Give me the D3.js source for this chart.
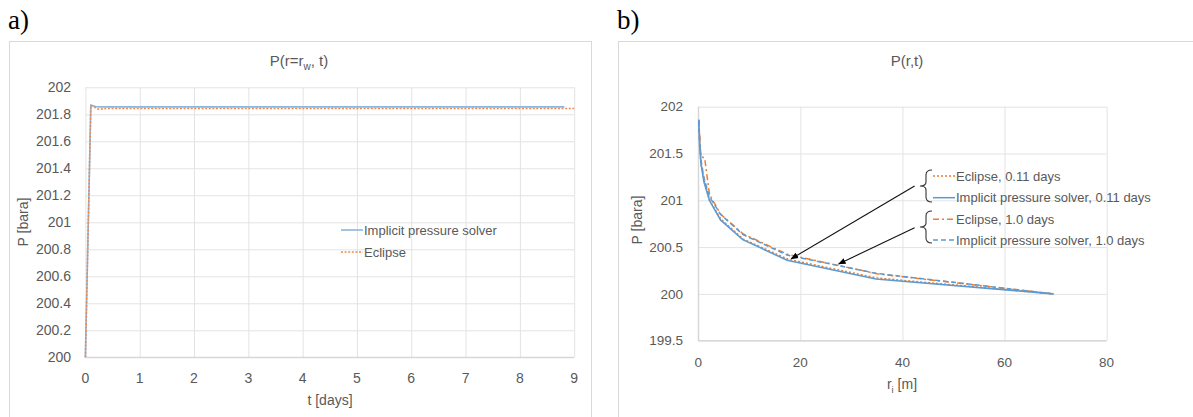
<!DOCTYPE html>
<html>
<head>
<meta charset="utf-8">
<script src="https://cdn.jsdelivr.net/npm/d3@7"></script>
<style>
  html, body { margin: 0; padding: 0; background: #fff; }
  svg { display: block; }
  text { font-family: "Liberation Sans", Arial, sans-serif; fill: #595959; }
</style>
</head>
<body>
<svg id="chart" width="1193" height="417"></svg>
<script>
// ---- Panel a: well pressure vs time ----
const timeImplicit = [0, 0.1, 0.2, 0.3, 1, 2, 3, 4, 5, 6, 7, 8, 8.82];
const presImplicit = [200, 201.868, 201.856, 201.855, 201.855, 201.855, 201.855, 201.855, 201.855, 201.855, 201.855, 201.855, 201.855];
const timeEclipse = [0, 0.1, 0.24, 0.4, 1, 2, 3, 4, 5, 6, 7, 8, 9];
const presEclipse = [200, 201.866, 201.838, 201.843, 201.843, 201.843, 201.843, 201.843, 201.843, 201.843, 201.843, 201.843, 201.843];
const tTicks = [0, 1, 2, 3, 4, 5, 6, 7, 8, 9];
const pTicksA = [200, 200.2, 200.4, 200.6, 200.8, 201, 201.2, 201.4, 201.6, 201.8, 202];

// ---- Panel b: pressure profile vs radius ----
const radiusImplicit = [0.1, 0.136, 0.27, 0.54, 1.09, 2.17, 4.35, 8.7, 17.4, 34.8, 69.6];
const presImplicit011 = [201.86, 201.78, 201.58, 201.39, 201.2, 201.0, 200.79, 200.58, 200.36, 200.16, 200.0];
const presImplicit10 = [201.86, 201.8, 201.62, 201.43, 201.24, 201.04, 200.85, 200.635, 200.415, 200.22, 200.0];
const radiusEclipse = [0.1, 0.5, 1.25, 2.2, 4.4, 8.8, 17.6, 35, 69.6];
const presEclipse011 = [201.85, 201.39, 201.2, 201.0, 200.8, 200.585, 200.37, 200.17, 200.0];
const presEclipse10 = [201.85, 201.47, 201.45, 201.06, 200.85, 200.64, 200.42, 200.215, 200.0];
const rTicks = [0, 20, 40, 60, 80];
const pTicksB = [199.5, 200, 200.5, 201, 201.5, 202];

const legendB = [
  { label: "Eclipse, 0.11 days", color: "#ed7d31", dash: "2,2" },
  { label: "Implicit pressure solver, 0.11 days", color: "#5b9bd5", dash: null },
  { label: "Eclipse, 1.0 days", color: "#ed7d31", dash: "6,3,2,3" },
  { label: "Implicit pressure solver, 1.0 days", color: "#5b9bd5", dash: "5,3" }
];

const svg = d3.select("#chart");
const gridColor = "#e3e3e3";

// chart frames
svg.append("rect").attr("x", 9.5).attr("y", 41.5).attr("width", 582).attr("height", 390)
  .attr("fill", "none").attr("stroke", "#d9d9d9");
svg.append("rect").attr("x", 618.5).attr("y", 41.5).attr("width", 600).attr("height", 390)
  .attr("fill", "none").attr("stroke", "#d9d9d9");

// panel letters
svg.append("text").attr("x", 8).attr("y", 29).text("a)")
  .style("font-family", "'Liberation Serif', 'Times New Roman', serif").style("font-size", "27px").style("fill", "#000");
svg.append("text").attr("x", 617).attr("y", 29).text("b)")
  .style("font-family", "'Liberation Serif', 'Times New Roman', serif").style("font-size", "27px").style("fill", "#000");

// ================= Panel a =================
const xa = d3.scaleLinear().domain([0, 9]).range([85.4, 574.2]);
const ya = d3.scaleLinear().domain([200, 202]).range([357.3, 87.3]);
const ga = svg.append("g");

ga.append("g").attr("transform", `translate(0,${ya(200)})`)
  .call(d3.axisBottom(xa).tickValues(tTicks).tickSize(-(ya(200) - ya(202))).tickFormat(""))
  .call(g => g.select(".domain").remove())
  .call(g => g.selectAll("line").attr("stroke", gridColor));
ga.append("g").attr("transform", `translate(${xa(0)},0)`)
  .call(d3.axisLeft(ya).tickValues(pTicksA).tickSize(-(xa(9) - xa(0))).tickFormat(""))
  .call(g => g.select(".domain").remove())
  .call(g => g.selectAll("line").attr("stroke", gridColor));
ga.append("line").attr("x1", xa(0)).attr("x2", xa(9)).attr("y1", ya(200)).attr("y2", ya(200))
  .attr("stroke", "#d0d0d0");

ga.selectAll(".ytA").data(pTicksA).join("text")
  .attr("x", 71).attr("y", d => ya(d)).attr("dy", "0.35em")
  .attr("text-anchor", "end").style("font-size", "14px").text(d => d3.format("")(d));
ga.selectAll(".xtA").data(tTicks).join("text")
  .attr("x", d => xa(d)).attr("y", 383).attr("text-anchor", "middle")
  .style("font-size", "14px").text(d => d);

const lineA = (xs, ys) => d3.line().x((d, i) => xa(xs[i])).y(d => ya(d))(ys);
ga.append("path").attr("d", lineA(timeImplicit, presImplicit))
  .attr("fill", "none").attr("stroke", "#8ab6e2").attr("stroke-width", 1.6);
ga.append("path").attr("d", lineA(timeEclipse, presEclipse))
  .attr("fill", "none").attr("stroke", "#f0894a").attr("stroke-width", 1.6).attr("stroke-dasharray", "2,1.6");

// title
const tA = ga.append("text").attr("x", 299).attr("y", 66).attr("text-anchor", "middle").style("font-size", "15px");
tA.append("tspan").text("P(r=r");
tA.append("tspan").attr("dy", 4).style("font-size", "10px").text("w");
tA.append("tspan").attr("dy", -4).text(", t)");

// axis titles
ga.append("text").attr("transform", "translate(28,222) rotate(-90)").attr("text-anchor", "middle")
  .style("font-size", "14px").text("P [bara]");
ga.append("text").attr("x", 330).attr("y", 405).attr("text-anchor", "middle")
  .style("font-size", "14px").text("t [days]");

// legend
const legA = [
  { label: "Implicit pressure solver", color: "#8ab6e2", dash: null, y: 230 },
  { label: "Eclipse", color: "#f0894a", dash: "2,1.6", y: 252 }
];
legA.forEach(d => {
  ga.append("line").attr("x1", 341).attr("x2", 363).attr("y1", d.y).attr("y2", d.y)
    .attr("stroke", d.color).attr("stroke-width", 1.6).attr("stroke-dasharray", d.dash);
  ga.append("text").attr("x", 364).attr("y", d.y).attr("dy", "0.35em").style("font-size", "13px").text(d.label);
});

// ================= Panel b =================
const xb = d3.scaleLinear().domain([0, 80]).range([698.3, 1106.6]);
const yb = d3.scaleLinear().domain([199.5, 202]).range([340.7, 106.7]);
const gb = svg.append("g");

gb.append("g").attr("transform", `translate(0,${yb(199.5)})`)
  .call(d3.axisBottom(xb).tickValues(rTicks).tickSize(-(yb(199.5) - yb(202))).tickFormat(""))
  .call(g => g.select(".domain").remove())
  .call(g => g.selectAll("line").attr("stroke", gridColor));
gb.append("g").attr("transform", `translate(${xb(0)},0)`)
  .call(d3.axisLeft(yb).tickValues(pTicksB).tickSize(-(xb(80) - xb(0))).tickFormat(""))
  .call(g => g.select(".domain").remove())
  .call(g => g.selectAll("line").attr("stroke", gridColor));
gb.append("line").attr("x1", xb(0)).attr("x2", xb(80)).attr("y1", yb(199.5)).attr("y2", yb(199.5))
  .attr("stroke", "#d0d0d0");
gb.append("line").attr("x1", xb(0)).attr("x2", xb(0)).attr("y1", yb(199.5)).attr("y2", yb(202))
  .attr("stroke", "#d0d0d0");

gb.selectAll(".ytB").data(pTicksB).join("text")
  .attr("x", 683).attr("y", d => yb(d)).attr("dy", "0.35em")
  .attr("text-anchor", "end").style("font-size", "13.5px").text(d => d);
gb.selectAll(".xtB").data(rTicks).join("text")
  .attr("x", d => xb(d)).attr("y", 367).attr("text-anchor", "middle")
  .style("font-size", "13.5px").text(d => d);

const lineB = (xs, ys) => d3.line().x((d, i) => xb(xs[i])).y(d => yb(d))(ys);
gb.append("path").attr("d", lineB(radiusEclipse, presEclipse011))
  .attr("fill", "none").attr("stroke", legendB[0].color).attr("stroke-width", 1.5).attr("stroke-dasharray", legendB[0].dash);
gb.append("path").attr("d", lineB(radiusEclipse, presEclipse10))
  .attr("fill", "none").attr("stroke", legendB[2].color).attr("stroke-width", 1.5).attr("stroke-dasharray", legendB[2].dash);
gb.append("path").attr("d", lineB(radiusImplicit, presImplicit011))
  .attr("fill", "none").attr("stroke", legendB[1].color).attr("stroke-width", 1.6);
gb.append("path").attr("d", lineB(radiusImplicit, presImplicit10))
  .attr("fill", "none").attr("stroke", legendB[3].color).attr("stroke-width", 1.5).attr("stroke-dasharray", legendB[3].dash);

// title
gb.append("text").attr("x", 907).attr("y", 66).attr("text-anchor", "middle").style("font-size", "15px").text("P(r,t)");

// axis titles
gb.append("text").attr("transform", "translate(642,220) rotate(-90)").attr("text-anchor", "middle")
  .style("font-size", "14px").text("P [bara]");
const tB = gb.append("text").attr("x", 902).attr("y", 389).attr("text-anchor", "middle").style("font-size", "14px");
tB.append("tspan").text("r");
tB.append("tspan").attr("dy", 4).style("font-size", "9.5px").text("i");
tB.append("tspan").attr("dy", -4).text(" [m]");

// legend
const legY = [176, 197.7, 219.3, 240];
legendB.forEach((d, i) => {
  gb.append("line").attr("x1", 933).attr("x2", 955).attr("y1", legY[i]).attr("y2", legY[i])
    .attr("stroke", d.color).attr("stroke-width", 1.5).attr("stroke-dasharray", d.dash);
  gb.append("text").attr("x", 956).attr("y", legY[i]).attr("dy", "0.35em").style("font-size", "13px").text(d.label);
});

// braces grouping each pair of legend entries
function brace(x, y0, y1) {
  const m = (y0 + y1) / 2, w = 6;
  return `M${x + w},${y0} Q${x},${y0} ${x},${y0 + 5} L${x},${m - 4} Q${x},${m} ${x - w},${m}` +
         ` Q${x},${m} ${x},${m + 4} L${x},${y1 - 5} Q${x},${y1} ${x + w},${y1}`;
}
gb.append("path").attr("d", brace(926, 170, 202)).attr("fill", "none").attr("stroke", "#333").attr("stroke-width", 1.1);
gb.append("path").attr("d", brace(926, 211, 243)).attr("fill", "none").attr("stroke", "#333").attr("stroke-width", 1.1);

// arrows from braces to the curves
const defs = svg.append("defs");
defs.append("marker").attr("id", "arrowHead").attr("viewBox", "0 0 10 10").attr("refX", 9).attr("refY", 5)
  .attr("markerWidth", 7).attr("markerHeight", 7).attr("orient", "auto")
  .append("path").attr("d", "M0,1 L10,5 L0,9 Z").attr("fill", "#000");
gb.append("line").attr("x1", 914.6).attr("y1", 186).attr("x2", xb(18.2)).attr("y2", yb(200.375))
  .attr("stroke", "#111").attr("stroke-width", 1.1).attr("marker-end", "url(#arrowHead)");
gb.append("line").attr("x1", 914.6).attr("y1", 227.7).attr("x2", xb(27.5)).attr("y2", yb(200.32))
  .attr("stroke", "#111").attr("stroke-width", 1.1).attr("marker-end", "url(#arrowHead)");
</script>
</body>
</html>
